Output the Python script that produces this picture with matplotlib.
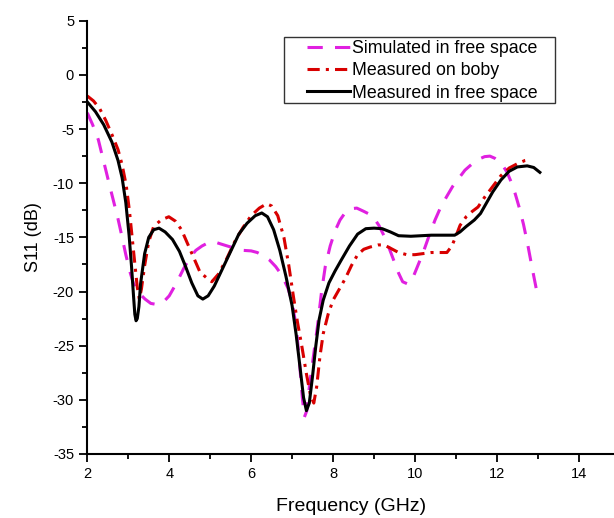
import matplotlib
matplotlib.use('Agg')
import matplotlib.pyplot as plt
from matplotlib.ticker import MultipleLocator
from matplotlib.patches import Rectangle

plt.rcParams['font.family'] = ['Liberation Sans', 'DejaVu Sans']
plt.rcParams['axes.unicode_minus'] = False

# simulated in free space
sim_f = [2.0, 2.13, 2.27, 2.4, 2.55, 2.65, 2.75, 2.85, 2.94, 3.05, 3.13, 3.25, 3.41,
         3.55, 3.7, 3.85, 4.0, 4.18, 4.35, 4.5, 4.65, 4.8, 4.95, 5.09, 5.25, 5.42,
         5.6, 5.8, 6.0, 6.15, 6.3, 6.45, 6.6, 6.75, 6.9, 7.0, 7.1, 7.18, 7.25, 7.3,
         7.36, 7.43, 7.52, 7.62, 7.72, 7.81, 7.93, 8.05, 8.17, 8.3, 8.45, 8.58, 8.75,
         8.96, 9.12, 9.29, 9.4, 9.5, 9.6, 9.7, 9.82, 9.92, 10.05, 10.2, 10.35, 10.49,
         10.63, 10.78, 10.92, 11.06, 11.22, 11.4, 11.55, 11.7, 11.83, 11.95, 12.05,
         12.15, 12.25, 12.35, 12.45, 12.55, 12.65, 12.75, 12.85, 12.97]
sim_s11 = [-3.5, -4.6, -6.0, -8.0, -10.3, -11.8, -13.3, -15.0, -16.6, -18.3, -19.3,
           -20.1, -20.7, -21.1, -21.2, -21.0, -20.4, -19.2, -17.9, -16.9, -16.2, -15.8,
           -15.5, -15.4, -15.6, -15.8, -16.0, -16.2, -16.25, -16.4, -16.7, -17.1, -17.7,
           -18.5, -19.7, -21.0, -23.2, -26.5, -29.8, -31.6, -31.0, -28.5, -26.0, -23.2,
           -20.0, -17.7, -15.8, -14.4, -13.4, -12.7, -12.35, -12.3, -12.6, -13.0, -13.9,
           -15.2, -16.3, -17.3, -18.3, -19.1, -19.3, -19.0, -17.8, -16.4, -14.8, -13.4,
           -12.2, -11.2, -10.3, -9.6, -8.8, -8.2, -7.8, -7.55, -7.5, -7.7, -8.0, -8.4,
           -9.0, -9.9, -11.0, -12.3, -13.8, -15.6, -17.6, -19.9]

# measured on body
body_f = [2.0, 2.15, 2.3, 2.45, 2.6, 2.75, 2.85, 2.95, 3.03, 3.1, 3.17, 3.22, 3.27,
          3.32, 3.4, 3.5, 3.62, 3.8, 3.99, 4.15, 4.3, 4.45, 4.6, 4.75, 4.9, 5.04, 5.2,
          5.4, 5.6, 5.8, 6.0, 6.2, 6.38, 6.5, 6.65, 6.8, 6.92, 7.03, 7.13, 7.24, 7.35,
          7.45, 7.53, 7.6, 7.68, 7.76, 7.88, 8.0, 8.15, 8.3, 8.45, 8.6, 8.75, 8.9, 9.1,
          9.25, 9.4, 9.6, 9.8, 10.0, 10.4, 10.78, 10.9, 11.0, 11.1, 11.25, 11.4, 11.54,
          11.7, 11.9, 12.1, 12.3, 12.5, 12.69, 12.83]
body_s11 = [-1.95, -2.4, -3.1, -4.2, -5.5, -6.9, -8.3, -10.2, -12.6, -15.2, -17.8,
            -19.6, -20.7, -19.8, -17.6, -15.4, -14.0, -13.4, -13.1, -13.5, -14.3, -15.6,
            -16.9, -18.2, -18.7, -19.1, -18.4, -17.0, -15.4, -14.1, -13.0, -12.3, -11.9,
            -12.1, -13.0, -15.0, -17.6, -20.4, -22.8, -25.1, -27.6, -29.6, -30.3, -28.8,
            -26.0, -23.9, -22.1, -20.8, -19.8, -18.8, -17.6, -16.6, -16.1, -15.9, -15.7,
            -15.7, -16.0, -16.4, -16.6, -16.6, -16.4, -16.4, -15.8, -14.9, -13.9, -13.1,
            -12.6, -12.2, -11.3, -10.3, -9.3, -8.6, -8.2, -7.9, -7.8]

# measured in free space
free_f = [2.0, 2.2, 2.4, 2.6, 2.75, 2.85, 2.94, 3.02, 3.08, 3.13, 3.16, 3.19, 3.22,
          3.26, 3.3, 3.4, 3.5, 3.62, 3.75, 3.9, 4.08, 4.25, 4.4, 4.55, 4.7, 4.82, 4.95,
          5.1, 5.3, 5.5, 5.7, 5.9, 6.1, 6.26, 6.4, 6.55, 6.7, 6.85, 7.0, 7.1, 7.2,
          7.28, 7.35, 7.42, 7.5, 7.58, 7.66, 7.76, 7.9, 8.05, 8.2, 8.4, 8.6, 8.8, 9.0,
          9.2, 9.4, 9.6, 9.9, 10.4, 10.97, 11.1, 11.25, 11.45, 11.6, 11.75, 11.9, 12.1,
          12.3, 12.5, 12.74, 12.9, 13.05]
free_s11 = [-2.5, -3.4, -4.6, -6.2, -7.9, -9.5, -11.8, -14.8, -17.7, -20.5, -22.1,
            -22.7, -22.5, -21.4, -19.3, -16.5, -15.0, -14.3, -14.15, -14.5, -15.2, -16.3,
            -17.7, -19.2, -20.4, -20.7, -20.4, -19.5, -17.9, -16.3, -14.7, -13.7, -13.0,
            -12.75, -13.1, -14.3, -16.2, -18.6, -21.3, -24.0, -27.2, -29.8, -31.0, -30.3,
            -27.8, -25.0, -22.6, -20.8, -19.2, -18.1, -17.1, -15.8, -14.7, -14.2, -14.15,
            -14.2, -14.5, -14.85, -14.9, -14.8, -14.8, -14.5, -14.0, -13.4, -12.8, -11.8,
            -10.8, -9.7, -8.9, -8.5, -8.4, -8.55, -9.0]

fig = plt.figure(figsize=(6.14, 5.18), dpi=100)
ax = fig.add_axes([0.1422, 0.1236, 0.8578, 0.8364])

ax.plot(sim_f, sim_s11, color='#e020e0', lw=2.2, dashes=(5, 4),
        label='Simulated in free space')
ax.plot(body_f, body_s11, color='#d80000', lw=2.2, dashes=(4, 2, 1, 2),
        label='Measured on boby')
ax.plot(free_f, free_s11, color='black', lw=2.2, label='Measured in free space')

ax.set_xlim(2, 14.86)
ax.set_ylim(-35, 5)
ax.xaxis.set_major_locator(MultipleLocator(2))
ax.xaxis.set_minor_locator(MultipleLocator(1))
ax.yaxis.set_major_locator(MultipleLocator(5))
ax.yaxis.set_minor_locator(MultipleLocator(2.5))
ax.tick_params(which='major', direction='out', length=6, width=1.3, labelsize=10.5)
ax.tick_params(which='minor', direction='out', length=3.5, width=1.3)
for s in ['top', 'right']:
    ax.spines[s].set_visible(False)
for s in ['left', 'bottom']:
    ax.spines[s].set_linewidth(1.5)

ax.set_xlabel('Frequency (GHz)', fontsize=14, labelpad=12)
ax.set_ylabel('S11 (dB)', fontsize=13, labelpad=8)

# legend: text without frame, box drawn separately
leg = ax.legend(loc='upper left', bbox_to_anchor=(307 / 614, 1 - 40 / 518),
                bbox_transform=fig.transFigure, fontsize=12.8, frameon=False,
                handlelength=2.4, handletextpad=0.15, labelspacing=0.3,
                borderpad=0, borderaxespad=0)
fig.patches.append(Rectangle((284 / 614, 1 - 103 / 518), 271 / 614, 66 / 518,
                             transform=fig.transFigure, fill=False,
                             edgecolor='#333333', lw=1.0))

fig.savefig('out.png', dpi=100)
